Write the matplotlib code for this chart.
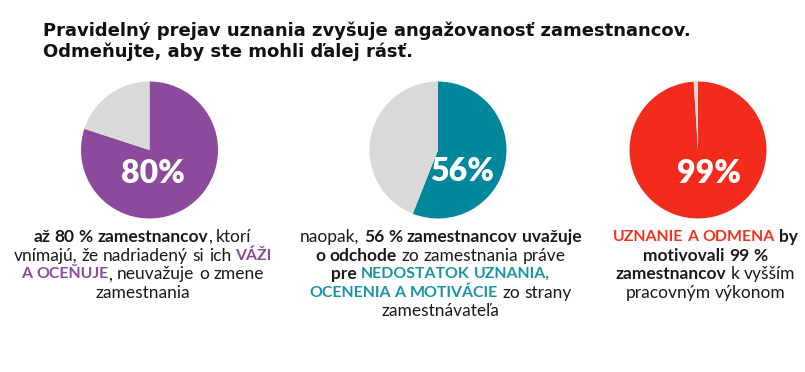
import matplotlib
matplotlib.use("Agg")
import matplotlib.pyplot as plt

W, H = 805, 372
FONT = "Lato"

# pie data (share of employees, %)
pie_values = [80, 56, 99]
pie_labels = ["80%", "56%", "99%"]
pie_colors = ["#8B4A9B", "#00879B", "#F22B1C"]
rest_color = "#D9D9D9"

title_lines = [
    "Pravidelný prejav uznania zvyšuje angažovanosť zamestnancov.",
    "Odmeňujte, aby ste mohli ďalej rásť.",
]

DARK = "#1A1A1A"
PURPLE = "#8B4A9B"
TEAL = "#1A93A3"
RED = "#F0321E"

# caption text: lines of (text, bold, color)
caption_left = [
    [("až 80 % zamestnancov", True, DARK), (", ktorí", False, DARK)],
    [("vnímajú, že nadriadený si ich ", False, DARK), ("VÁŽI", True, PURPLE)],
    [("A OCEŇUJE", True, PURPLE), (", neuvažuje o zmene", False, DARK)],
    [("zamestnania", False, DARK)],
]
caption_mid = [
    [("naopak, ", False, DARK), ("56 % zamestnancov uvažuje", True, DARK)],
    [("o odchode", True, DARK), (" zo zamestnania práve", False, DARK)],
    [("pre ", True, DARK), ("NEDOSTATOK UZNANIA,", True, TEAL)],
    [("OCENENIA A MOTIVÁCIE", True, TEAL), (" zo strany", False, DARK)],
    [("zamestnávateľa", False, DARK)],
]
caption_right = [
    [("UZNANIE A ODMENA", True, RED), (" by", True, DARK)],
    [("motivovali 99 %", True, DARK)],
    [("zamestnancov", True, DARK), (" k vyšším", False, DARK)],
    [("pracovným výkonom", False, DARK)],
]

fig = plt.figure(figsize=(W / 100, H / 100), dpi=100)
fig.patch.set_facecolor("white")
renderer = fig.canvas.get_renderer()

# title
for i, line in enumerate(title_lines):
    fig.text(43 / W, 1 - (36 + 21 * i) / H, line, fontsize=13, fontweight="bold",
             family="DejaVu Sans", color="#111111", ha="left", va="baseline")

# pies
centers = [(149.5, 150), (438, 150), (698, 150)]
label_off = [(0.05, -0.34), (0.35, -0.32), (0.16, -0.34)]
r = 68.5
for (cx, cy), v, lab, col, off in zip(centers, pie_values, pie_labels, pie_colors, label_off):
    ax = fig.add_axes([(cx - r) / W, 1 - (cy + r) / H, 2 * r / W, 2 * r / H])
    ax.pie([v, 100 - v], colors=[col, rest_color], startangle=90, counterclock=False,
           radius=1, wedgeprops=dict(linewidth=0))
    ax.set_xlim(-1, 1)
    ax.set_ylim(-1, 1)
    ax.set_aspect("auto")
    ax.axis("off")
    ax.text(off[0], off[1], lab, ha="center", va="center", color="white",
            fontsize=23, fontweight="heavy", family=FONT)


def style(bold, caps=False):
    size = 11.4 if caps else 12.5
    return dict(fontsize=size, family=FONT, fontweight="bold" if bold else "normal")


def width(s, bold, caps=False):
    t = fig.text(0, 0, s, **style(bold, caps))
    w = t.get_window_extent(renderer).width
    t.remove()
    return w


def draw_caption(lines, xc, y0, step=18.6):
    for i, segs in enumerate(lines):
        items = []
        for text, bold, color in segs:
            caps = text.strip().isupper()
            words = text.split(" ")
            sp = width("a a", bold, caps) - width("aa", bold, caps)
            for j, w in enumerate(words):
                if j > 0:
                    items.append(("", bold, caps, color, sp))
                if w:
                    items.append((w, bold, caps, color, width(w, bold, caps)))
        total = sum(it[4] for it in items)
        x = xc - total / 2
        y = y0 + step * i
        for w, bold, caps, color, wd in items:
            if w:
                fig.text(x / W, 1 - y / H, w, color=color, ha="left", va="center",
                         **style(bold, caps))
            x += wd


draw_caption(caption_left, 142.5, 237)
draw_caption(caption_mid, 440.5, 237)
draw_caption(caption_right, 705.5, 237)

fig.savefig("out.png", dpi=100, facecolor="white")
